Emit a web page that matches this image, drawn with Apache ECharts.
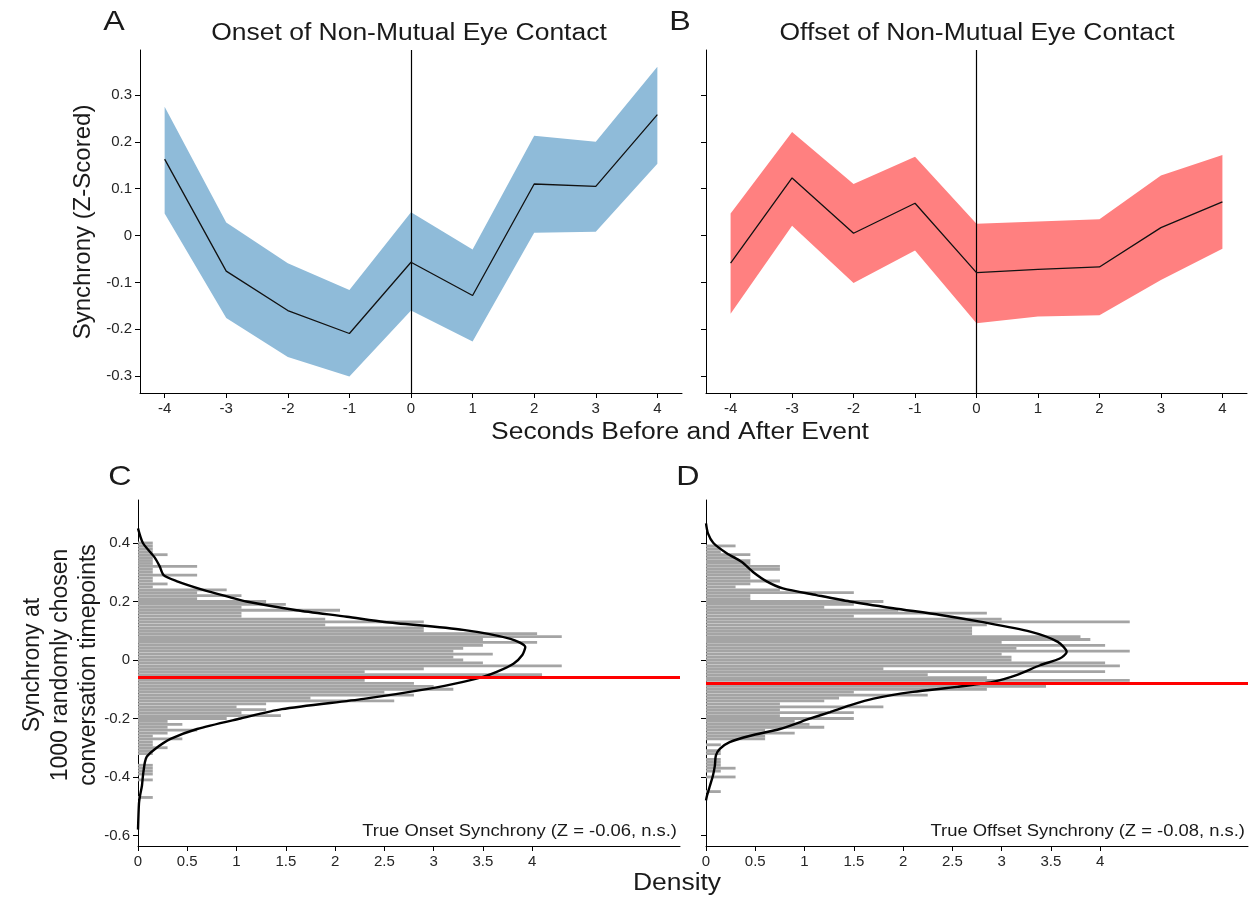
<!DOCTYPE html>
<html>
<head>
<meta charset="utf-8">
<script src="https://cdn.jsdelivr.net/npm/echarts@6/dist/echarts.min.js"></script>
<style>
  html, body { margin: 0; padding: 0; background: #fff; }
  #chart { width: 1251px; height: 897px; }
</style>
</head>
<body>
<div id="chart"></div>
<script>
// ---- top panels: seconds around event ----
const seconds = [-4, -3, -2, -1, 0, 1, 2, 3, 4];

const onsetMean  = [0.163, -0.076, -0.160, -0.209, -0.057, -0.128, 0.110, 0.105, 0.258];
const onsetUpper = [0.275, 0.028, -0.059, -0.116, 0.050, -0.030, 0.213, 0.200, 0.360];
const onsetLower = [0.047, -0.176, -0.259, -0.301, -0.160, -0.226, 0.006, 0.008, 0.153];

const offsetMean  = [-0.059, 0.123, 0.005, 0.069, -0.079, -0.072, -0.067, 0.017, 0.072];
const offsetUpper = [0.047, 0.221, 0.110, 0.168, 0.025, 0.030, 0.035, 0.128, 0.172];
const offsetLower = [-0.167, 0.021, -0.101, -0.032, -0.187, -0.173, -0.170, -0.095, -0.028];

const topYTicks = [-0.3, -0.2, -0.1, 0, 0.1, 0.2, 0.3];

// ---- bottom panels: random timepoint distributions ----
const binWidth = 0.01;
// onset histogram, bins from 0.40 down to -0.47
const onsetBinTop = 0.40;
const onsetHist = [
  0.15, 0.15, 0.15, 0.15, 0.3, 0.15, 0.15, 0.15, 0.6, 0.15,
  0.15, 0.6, 0.15, 0.15, 0.3, 0.15, 0.9, 0.6, 1.05, 0.6,
  1.3, 1.5, 1.05, 2.05, 1.05, 1.05, 1.9, 2.9, 1.9, 2.9,
  2.9, 4.05, 4.3, 3.5, 4.05, 3.5, 3.3, 3.2, 3.6, 3.2,
  3.3, 3.5, 4.3, 2.9, 2.3, 4.1, 3.4, 2.3, 2.8, 3.0,
  3.2, 2.5, 2.8, 1.75, 2.6, 1.3, 1.0, 1.3, 1.05, 1.45,
  0.9, 0.3, 0.45, 0.3, 0.6, 0.3, 0.15, 0.45, 0.15, 0.15,
  0.3, 0.15, 0.15, 0, 0, 0, 0.15, 0.15, 0.15, 0.15,
  0, 0.15, 0, 0, 0, 0, 0, 0.15
];
// offset histogram, bins from 0.39 down to -0.45
const offsetBinTop = 0.39;
const offsetHist = [
  0.3, 0.15, 0.15, 0.45, 0.3, 0.45, 0.45, 0.75, 0.75, 0.45,
  0.45, 0.45, 0.75, 0.45, 0.3, 0.75, 1.5, 0.45, 0.45, 1.8,
  1.5, 1.2, 1.95, 2.85, 1.5, 3.0, 4.3, 2.85, 2.7, 2.7,
  2.7, 3.8, 3.9, 3.0, 4.05, 3.15, 4.3, 3.0, 3.1, 3.1,
  4.05, 4.2, 1.8, 4.05, 2.25, 2.85, 4.3, 2.55, 3.45, 2.85,
  1.5, 2.25, 1.35, 1.2, 0.75, 1.8, 0.75, 1.5, 0.75, 1.5,
  0.9, 1.05, 1.2, 0.6, 0.9, 0.6, 0.6, 0, 0.15, 0,
  0.15, 0.15, 0, 0.15, 0.15, 0.15, 0.3, 0.15, 0, 0.3,
  0, 0, 0, 0, 0.15
];

// kernel density curves: synchrony level / density
const onsetKdeY = [0.45, 0.40, 0.35, 0.32, 0.29, 0.27, 0.24, 0.215, 0.20, 0.17, 0.148, 0.13, 0.103, 0.072, 0.044, 0.017, -0.013, -0.041, -0.058, -0.075, -0.098, -0.133, -0.168, -0.20, -0.236, -0.27, -0.305, -0.33, -0.35, -0.396, -0.43, -0.465, -0.49, -0.58];
const onsetKdeD = [0, 0.05, 0.17, 0.22, 0.26, 0.39, 0.66, 0.93, 1.1, 1.61, 2.12, 2.5, 3.3, 3.78, 3.93, 3.9, 3.81, 3.64, 3.5, 3.3, 2.96, 2.29, 1.46, 1.04, 0.6, 0.33, 0.17, 0.09, 0.07, 0.05, 0.04, 0.02, 0.01, 0];

const offsetKdeY = [0.467, 0.433, 0.40, 0.365, 0.336, 0.30, 0.268, 0.245, 0.222, 0.20, 0.177, 0.154, 0.131, 0.097, 0.062, 0.027, 0.005, -0.018, -0.052, -0.075, -0.092, -0.109, -0.132, -0.155, -0.178, -0.20, -0.236, -0.259, -0.281, -0.304, -0.327, -0.361, -0.396, -0.43, -0.464, -0.48];
const offsetKdeD = [0, 0.02, 0.075, 0.21, 0.36, 0.48, 0.62, 0.78, 1.12, 1.46, 1.9, 2.38, 2.78, 3.29, 3.57, 3.66, 3.59, 3.39, 3.15, 2.91, 2.55, 2.1, 1.7, 1.46, 1.26, 1.06, 0.75, 0.45, 0.24, 0.14, 0.10, 0.09, 0.07, 0.04, 0.01, 0];

const onsetTrue = -0.056;
const offsetTrue = -0.082;

const botYTicks = [-0.6, -0.4, -0.2, 0, 0.2, 0.4];
const densityTicks = [0, 0.5, 1, 1.5, 2, 2.5, 3, 3.5, 4];

const FONT = "Liberation Sans";
const INK = "#1a1a1a";
const WIDE = 1.15; // reference text is a bit wider than Arial

function fmt(v) {
  return String(+v.toFixed(2));
}

function valueAxis(grid, min, max, ticks, showLabels) {
  return {
    type: "value",
    gridIndex: grid,
    min: min,
    max: max,
    splitLine: { show: false },
    axisLine: { show: true, onZero: false, lineStyle: { color: "#000", width: 1 } },
    axisTick: { show: true, length: 5, customValues: ticks, lineStyle: { color: "#000" } },
    axisLabel: {
      show: showLabels,
      customValues: ticks,
      formatter: fmt,
      fontFamily: FONT,
      fontSize: 15,
      color: "#262626",
      margin: 8
    }
  };
}

function bandSeries(grid, lower, upper, color) {
  return {
    type: "custom",
    xAxisIndex: grid,
    yAxisIndex: grid,
    data: seconds.map((s, i) => [s, lower[i], upper[i]]),
    encode: { x: 0, y: [1, 2] },
    silent: true,
    renderItem: function (params, api) {
      if (params.dataIndex !== 0) return null;
      const pts = [];
      seconds.forEach((s, i) => pts.push(api.coord([s, upper[i]])));
      for (let i = seconds.length - 1; i >= 0; i--) pts.push(api.coord([seconds[i], lower[i]]));
      return { type: "polygon", shape: { points: pts }, style: { fill: color } };
    }
  };
}

function meanSeries(grid, mean) {
  return {
    type: "line",
    xAxisIndex: grid,
    yAxisIndex: grid,
    data: seconds.map((s, i) => [s, mean[i]]),
    symbol: "none",
    lineStyle: { color: "#111", width: 1.3 },
    z: 5,
    markLine: {
      silent: true,
      symbol: "none",
      label: { show: false },
      lineStyle: { color: "#000", width: 1.2, type: "solid" },
      data: [{ xAxis: 0 }]
    }
  };
}

function histSeries(grid, hist, top) {
  const data = hist.map((d, i) => [d, +(top - i * binWidth).toFixed(3)]);
  return {
    type: "custom",
    xAxisIndex: grid,
    yAxisIndex: grid,
    data: data,
    encode: { x: 0, y: 1 },
    silent: true,
    renderItem: function (params, api) {
      const d = api.value(0);
      const c = api.value(1);
      if (!d) return null;
      const p0 = api.coord([0, c + binWidth * 0.48]);
      const p1 = api.coord([d, c - binWidth * 0.48]);
      return {
        type: "rect",
        shape: { x: p0[0], y: p0[1], width: p1[0] - p0[0], height: p1[1] - p0[1] },
        style: { fill: "#a4a4a4" }
      };
    }
  };
}

function kdeSeries(grid, ys, ds, trueZ) {
  return {
    type: "line",
    xAxisIndex: grid,
    yAxisIndex: grid,
    data: ys.map((y, i) => [ds[i], y]),
    symbol: "none",
    smooth: 0.25,
    lineStyle: { color: "#000", width: 2.4 },
    z: 5,
    markLine: {
      silent: true,
      symbol: "none",
      label: { show: false },
      lineStyle: { color: "#ff0000", width: 3, type: "solid" },
      z: 10,
      data: [{ yAxis: trueZ }]
    }
  };
}

// horizontal text, stretched sideways like the reference
function txt(x, y, text, size, align) {
  return {
    type: "text",
    x: x,
    y: y,
    scaleX: WIDE,
    style: {
      text: text,
      font: size + "px '" + FONT + "'",
      fill: INK,
      textAlign: align || "center",
      textVerticalAlign: "middle"
    }
  };
}

function vtxt(x, y, text, size) {
  return {
    type: "text",
    x: x,
    y: y,
    rotation: Math.PI / 2,
    style: {
      text: text,
      font: size + "px '" + FONT + "'",
      fill: INK,
      textAlign: "center",
      textVerticalAlign: "middle",
      lineHeight: 28
    }
  };
}

const chart = echarts.init(document.getElementById("chart"), null, { renderer: "canvas" });

const option = {
  backgroundColor: "#fff",
  animation: false,
  grid: [
    { left: 140, top: 50, width: 542, height: 343 },
    { left: 706, top: 50, width: 541, height: 343 },
    { left: 138, top: 500, width: 542, height: 346 },
    { left: 706, top: 500, width: 542, height: 346 }
  ],
  xAxis: [
    valueAxis(0, -4.4, 4.4, seconds, true),
    valueAxis(1, -4.4, 4.4, seconds, true),
    valueAxis(2, 0, 5.5, densityTicks, true),
    valueAxis(3, 0, 5.5, densityTicks, true)
  ],
  yAxis: [
    valueAxis(0, -0.336, 0.396, topYTicks, true),
    valueAxis(1, -0.336, 0.396, topYTicks, false),
    valueAxis(2, -0.636, 0.547, botYTicks, true),
    valueAxis(3, -0.636, 0.547, botYTicks, false)
  ],
  series: [
    bandSeries(0, onsetLower, onsetUpper, "#8fbbd9"),
    meanSeries(0, onsetMean),
    bandSeries(1, offsetLower, offsetUpper, "#ff8080"),
    meanSeries(1, offsetMean),
    histSeries(2, onsetHist, onsetBinTop),
    kdeSeries(2, onsetKdeY, onsetKdeD, onsetTrue),
    histSeries(3, offsetHist, offsetBinTop),
    kdeSeries(3, offsetKdeY, offsetKdeD, offsetTrue)
  ],
  graphic: [
    txt(114, 22, "A", 28),
    txt(680, 22, "B", 28),
    txt(120, 477, "C", 28),
    txt(688, 477, "D", 28),
    txt(409, 34, "Onset of Non-Mutual Eye Contact", 23),
    txt(977, 34, "Offset of Non-Mutual Eye Contact", 23),
    txt(680, 433, "Seconds Before and After Event", 23),
    txt(677, 884, "Density", 23),
    vtxt(83, 222, "Synchrony (Z-Scored)", 24),
    vtxt(61, 665, "Synchrony at\n1000 randomly chosen\nconversation timepoints", 23),
    txt(677, 832, "True Onset Synchrony (Z = -0.06, n.s.)", 16, "right"),
    txt(1245, 832, "True Offset Synchrony (Z = -0.08, n.s.)", 16, "right")
  ]
};

chart.setOption(option);
</script>
</body>
</html>
